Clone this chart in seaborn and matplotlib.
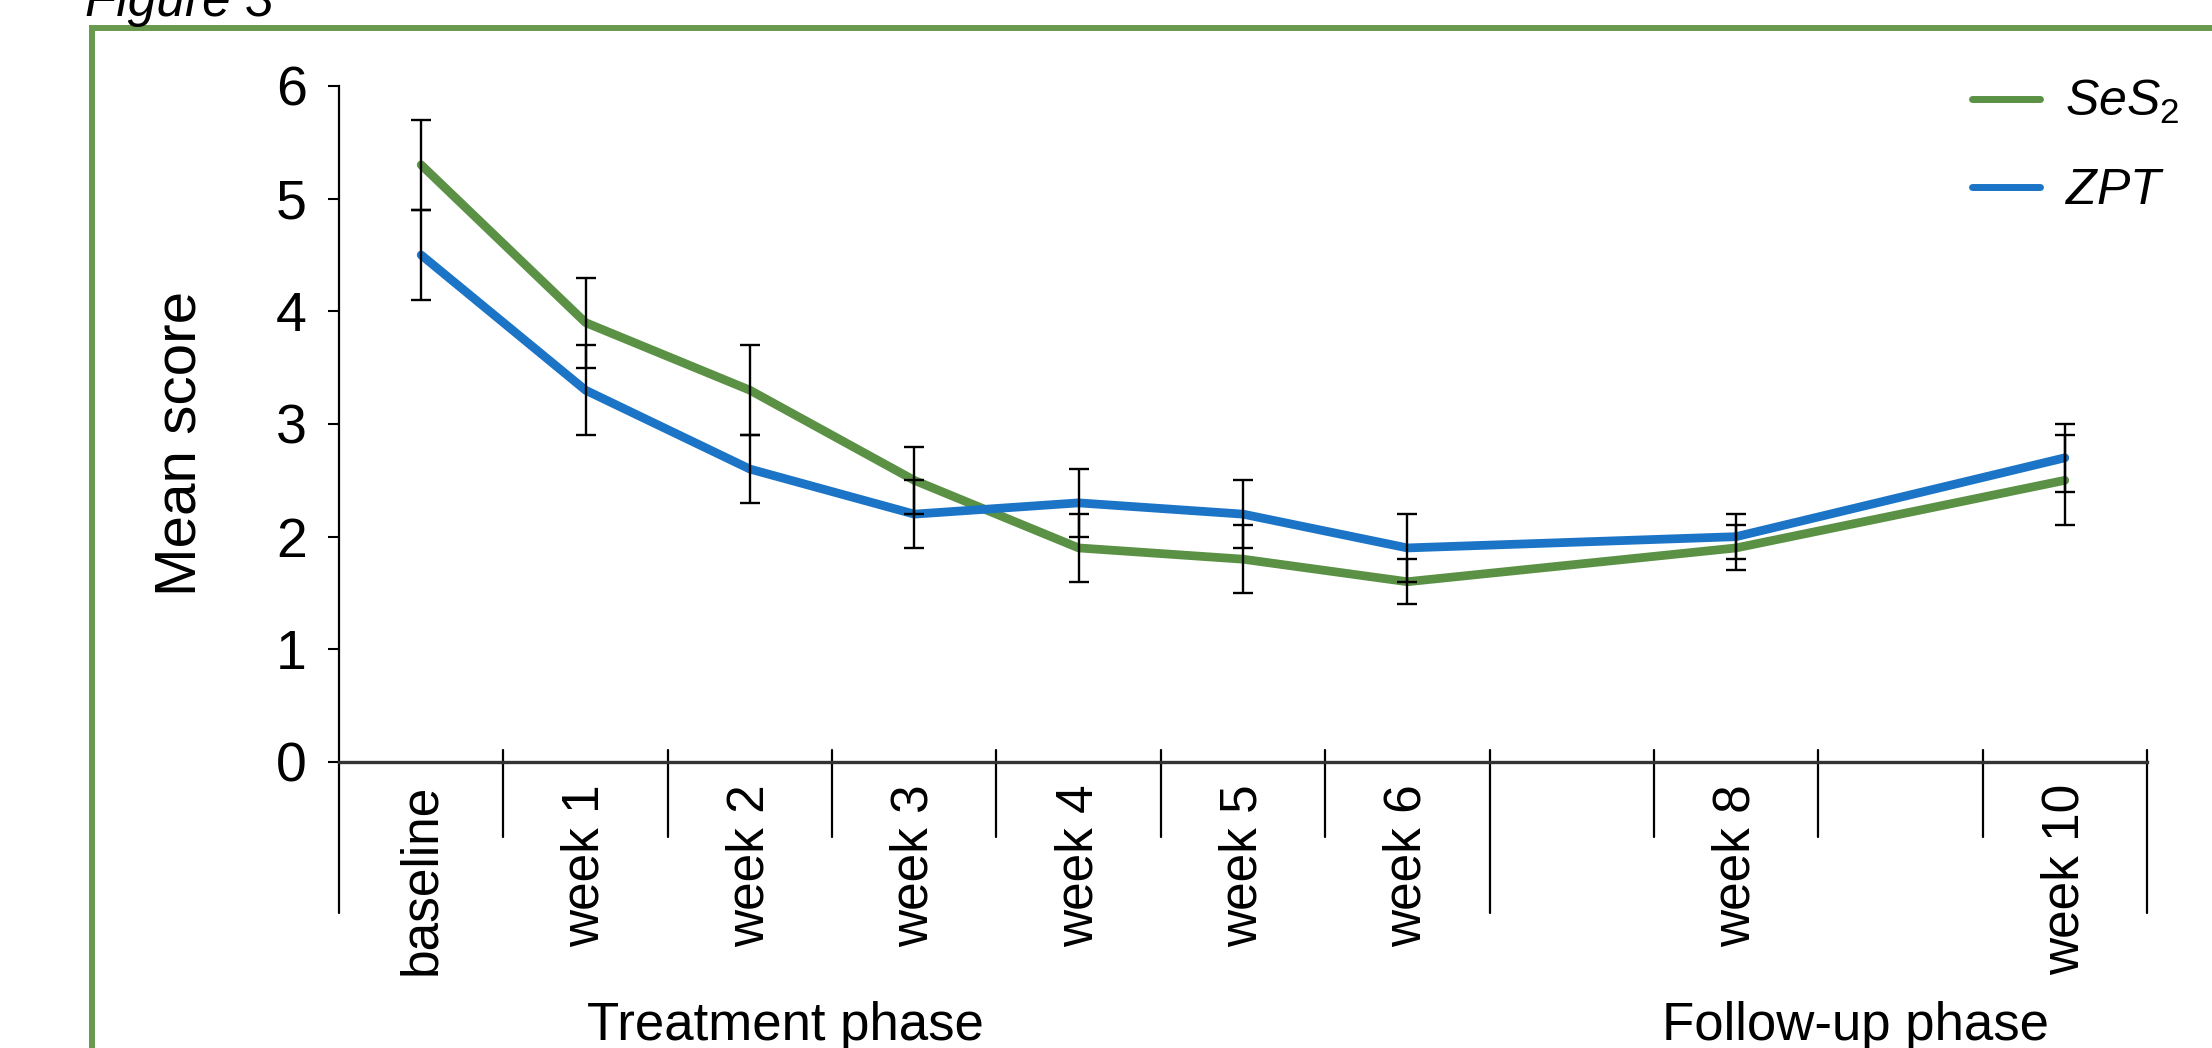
import matplotlib
matplotlib.use("Agg")
import matplotlib.pyplot as plt
import matplotlib.transforms as mtransforms
from matplotlib.lines import Line2D
import numpy as np
import pandas as pd
import seaborn as sns

# ---------------- data ----------------
slot_labels = ["baseline", "week 1", "week 2", "week 3", "week 4", "week 5",
               "week 6", "", "week 8", "", "week 10"]
timepoints = ["baseline", "week 1", "week 2", "week 3", "week 4", "week 5",
              "week 6", "week 8", "week 10"]
ses2_mean = [5.3, 3.9, 3.3, 2.5, 1.9, 1.8, 1.6, 1.9, 2.5]
ses2_err = [0.4, 0.4, 0.4, 0.3, 0.3, 0.3, 0.2, 0.2, 0.4]
zpt_mean = [4.5, 3.3, 2.6, 2.2, 2.3, 2.2, 1.9, 2.0, 2.7]
zpt_err = [0.4, 0.4, 0.3, 0.3, 0.3, 0.3, 0.3, 0.2, 0.3]
series_names = ["SeS2", "ZPT"]
legend_labels = [r"$SeS_{2}$", r"$ZPT$"]
phase_labels = ["Treatment phase", "Follow-up phase"]
y_ticks = [0, 1, 2, 3, 4, 5, 6]
figure_title = "Figure 3"

# ---------------- style ----------------
sns.set_style("white")
plt.rcParams["font.family"] = ["Liberation Sans", "DejaVu Sans"]
plt.rcParams["mathtext.fontset"] = "custom"
plt.rcParams["mathtext.it"] = "Liberation Sans:italic"
plt.rcParams["mathtext.rm"] = "Liberation Sans"
for k in ["text.color", "axes.labelcolor", "xtick.color", "ytick.color"]:
    plt.rcParams[k] = "black"

GREEN = "#5A9145"
BLUE = "#1B74C6"
FRAME = "#69994F"

W, H = 2212, 1048
fig = plt.figure(figsize=(W / 100, H / 100), dpi=100)
ax_left, ax_right, ax_top, ax_bottom = 339, 2147, 86, 762
ax = fig.add_axes([ax_left / W, 1 - ax_bottom / H,
                   (ax_right - ax_left) / W, (ax_bottom - ax_top) / H])

pos_of = {lab: i for i, lab in enumerate(slot_labels) if lab}
xpos = [pos_of[t] for t in timepoints]

df = pd.DataFrame({
    "x": xpos * 2,
    "score": ses2_mean + zpt_mean,
    "series": [series_names[0]] * len(timepoints) + [series_names[1]] * len(timepoints),
})
sns.lineplot(data=df, x="x", y="score", hue="series",
             palette={series_names[0]: GREEN, series_names[1]: BLUE},
             lw=6.3, ax=ax, legend=False, errorbar=None, sort=False, zorder=2)

for m, e in [(ses2_mean, ses2_err), (zpt_mean, zpt_err)]:
    ax.errorbar(xpos, m, yerr=e, fmt="none", ecolor="black",
                elinewidth=1.7, capsize=7, capthick=1.7, zorder=3)

ax.set_xlim(-0.5, len(slot_labels) - 0.5)
ax.set_ylim(0, 6)
ax.set_yticks(y_ticks)
ax.set_yticklabels([str(t) for t in y_ticks], fontsize=40)
ax.set_xticks(range(len(slot_labels)))
ax.set_xticklabels(slot_labels, rotation=90, fontsize=37)
ax.tick_params(axis="x", length=0, pad=16)
ax.tick_params(axis="y", length=8, width=1.5, pad=15, color="black", left=True)
ax.set_xlabel("")
ax.set_ylabel("")
for s in ["top", "right"]:
    ax.spines[s].set_visible(False)
ax.spines["left"].set_color("black")
ax.spines["left"].set_linewidth(1.6)
ax.spines["bottom"].set_color("#333333")
ax.spines["bottom"].set_linewidth(2.4)

# category dividers below axis
trans = mtransforms.blended_transform_factory(ax.transData, ax.transAxes)
h_ax = ax_bottom - ax_top
short_top = (ax_bottom - 750) / h_ax
short_bot = -(837 - ax_bottom) / h_ax
long_bot = -(913 - ax_bottom) / h_ax
n = len(slot_labels)
long_idx = {-1, 6, n - 1}
for k in range(-1, n):
    xb = k + 0.5
    if k == -1:
        y0, y1 = long_bot, 0
    elif k in long_idx:
        y0, y1 = long_bot, short_top
    else:
        y0, y1 = short_bot, short_top
    ax.add_line(Line2D([xb, xb], [y0, y1], transform=trans, color="black",
                       lw=1.6, clip_on=False))

# axis labels
fig.text(180 / W, 1 - 443 / H, "Mean score", rotation=90, ha="center",
         va="center", fontsize=42)
fig.text(785 / W, 1 - 1040 / H, phase_labels[0], ha="center",
         va="baseline", fontsize=38)
fig.text(1855 / W, 1 - 1040 / H, phase_labels[1], ha="center",
         va="baseline", fontsize=38)

# legend
handles = [Line2D([], [], color=GREEN, lw=5),
           Line2D([], [], color=BLUE, lw=5)]
ax.legend(handles, legend_labels, loc="upper left",
          bbox_to_anchor=(1972 / W, 1 - 78 / H), bbox_transform=fig.transFigure,
          frameon=False, fontsize=36, handlelength=1.36, handletextpad=0.5,
          labelspacing=0.84, borderpad=0, borderaxespad=0)

# figure frame and title
xf = 92 / W
yf = 1 - 28 / H
fig.add_artist(Line2D([xf, xf, 1.0], [0.0, yf, yf], transform=fig.transFigure,
                      color=FRAME, lw=4.3, solid_joinstyle="miter"))
fig.text(85 / W, 1 - 16 / H, figure_title, style="italic", ha="left",
         va="baseline", fontsize=37)

fig.savefig("out.png", dpi=100)
